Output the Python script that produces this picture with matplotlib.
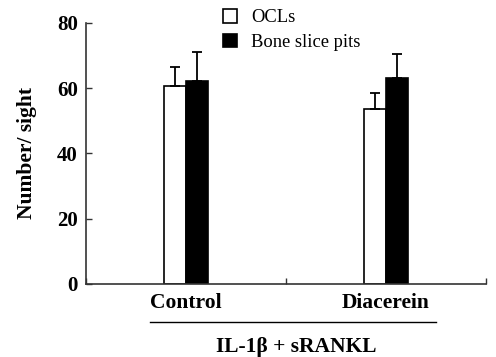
import matplotlib
matplotlib.use("Agg")
import matplotlib.pyplot as plt
import numpy as np

categories = ["Control", "Diacerein"]
series_names = ["OCLs", "Bone slice pits"]
ocls = [60.7, 53.5]
ocls_err = [5.8, 4.9]
pits = [62.2, 63.2]
pits_err = [9.0, 7.2]
y_ticks = [0, 20, 40, 60, 80]

plt.rcParams['font.family'] = ['Liberation Serif', 'DejaVu Serif']

fig = plt.figure(figsize=(4.96, 3.57), dpi=100)
ax = fig.add_axes([0.1734, 0.2045, 0.98 - 0.1734, 0.9356 - 0.2045])

x = np.arange(len(categories))
w = 0.112
ax.bar(x - w / 2, ocls, w, color='white', edgecolor='black', linewidth=1.2,
       yerr=[[0] * len(ocls), ocls_err], capsize=3.5,
       error_kw=dict(elinewidth=1.3, capthick=1.3, ecolor='black'), label=series_names[0])
ax.bar(x + w / 2, pits, w, color='black', edgecolor='black', linewidth=1.2,
       yerr=[[0] * len(pits), pits_err], capsize=3.5,
       error_kw=dict(elinewidth=1.3, capthick=1.3, ecolor='black'), label=series_names[1])

ax.set_xlim(-0.5, 1.5)
ax.set_ylim(0, 80)
ax.set_yticks(y_ticks)
ax.set_yticklabels([str(t) for t in y_ticks], fontsize=15, fontweight='bold')
ax.set_xticks([-0.5, 0.5, 1.5])
ax.set_xticklabels([])
ax.tick_params(axis='both', direction='in', length=4, width=1.0, color='#333333')
ax.tick_params(axis='y', pad=6)
for s in ['top', 'right']:
    ax.spines[s].set_visible(False)
for s in ['left', 'bottom']:
    ax.spines[s].set_linewidth(1.2)
    ax.spines[s].set_color('#333333')

for xi, c in zip(x, categories):
    ax.text(xi, -0.072, c, transform=ax.get_xaxis_transform(), ha='center', va='center',
            fontsize=15.5, fontweight='bold')

ax.set_ylabel("Number/ sight", fontsize=15.5, fontweight='bold', labelpad=14)

# group line and label
fig.add_artist(plt.Line2D([150 / 496, 436 / 496], [1 - 322.3 / 357] * 2, color='black', linewidth=1.0))
fig.text(296 / 496, 1 - 347 / 357, "IL-1β + sRANKL", ha='center', va='center',
         fontsize=15.5, fontweight='bold')

leg = ax.legend(loc='upper left', bbox_to_anchor=(214 / 496, 1.0), bbox_transform=fig.transFigure,
                frameon=False, fontsize=13.3, handlelength=0.75, handleheight=0.75,
                handletextpad=0.75, labelspacing=0.4, borderaxespad=0.1)

fig.savefig("out.png", dpi=100)
